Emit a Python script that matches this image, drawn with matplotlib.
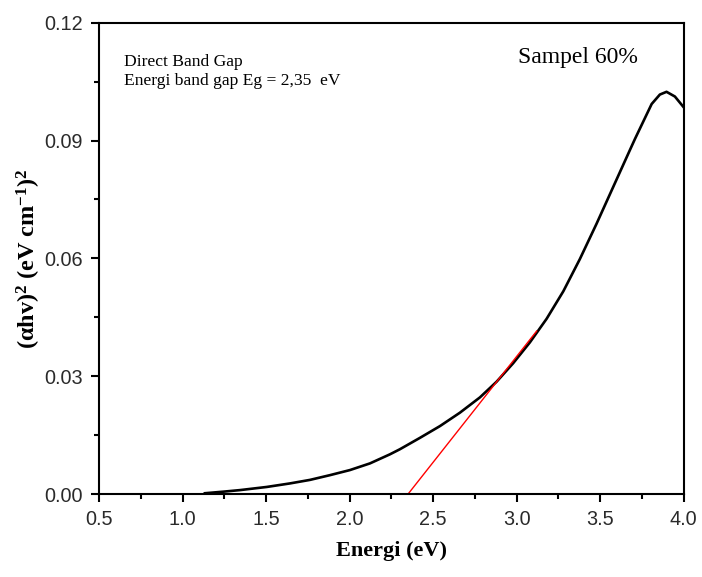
import matplotlib
matplotlib.use("Agg")
import matplotlib.pyplot as plt
from matplotlib.ticker import MultipleLocator, FormatStrFormatter

# Tauc plot data: photon energy (eV) vs (alpha*h*nu)^2
energy = [1.134, 1.244, 1.344, 1.504, 1.643, 1.763, 1.882, 2.002, 2.122,
          2.241, 2.301, 2.421, 2.541, 2.660, 2.780, 2.880, 2.979, 3.079,
          3.179, 3.279, 3.378, 3.478, 3.578, 3.678, 3.708, 3.808, 3.857,
          3.897, 3.947, 3.997]
tauc = [0.0002, 0.0006, 0.0010, 0.0018, 0.0027, 0.0036, 0.0048, 0.0061,
        0.0078, 0.0101, 0.0114, 0.0143, 0.0173, 0.0207, 0.0246, 0.0286,
        0.0333, 0.0386, 0.0446, 0.0516, 0.0598, 0.0688, 0.0782, 0.0876,
        0.0904, 0.0993, 0.1017, 0.1024, 0.1012, 0.0986]

# Linear extrapolation of the absorption edge
fit_x = [2.35, 3.12]
fit_y = [0.0, 0.0415]

x_ticks = [0.5, 1.0, 1.5, 2.0, 2.5, 3.0, 3.5, 4.0]
y_ticks = [0.00, 0.03, 0.06, 0.09, 0.12]

plt.rcParams['mathtext.fontset'] = 'custom'
plt.rcParams['mathtext.rm'] = 'Liberation Serif'
plt.rcParams['mathtext.bf'] = 'Liberation Serif:bold'
plt.rcParams['mathtext.it'] = 'Liberation Serif:italic'

fig = plt.figure(figsize=(7.02, 5.77), dpi=100)
ax = fig.add_axes([0.141, 0.1438, 0.833, 0.8169])

ax.plot(energy, tauc, color='black', lw=1.9, solid_joinstyle='round')
ax.plot(fit_x, fit_y, color='red', lw=1.0)

ax.set_xlim(0.5, 4.0)
ax.set_ylim(0.0, 0.12)
ax.set_xticks(x_ticks)
ax.set_yticks(y_ticks)
ax.xaxis.set_minor_locator(MultipleLocator(0.25))
ax.yaxis.set_minor_locator(MultipleLocator(0.015))
ax.xaxis.set_major_formatter(FormatStrFormatter('%.1f'))
ax.yaxis.set_major_formatter(FormatStrFormatter('%.2f'))

for side in ax.spines.values():
    side.set_linewidth(1.5)

ax.tick_params(which='major', direction='out', length=6, width=1.5,
               labelsize=14.3, pad=5.5, labelcolor='#2a2a2a')
ax.tick_params(which='minor', direction='out', length=3.5, width=1.5)
for lab in ax.get_xticklabels() + ax.get_yticklabels():
    lab.set_fontfamily('Liberation Sans')

ax.set_xlabel('Energi (eV)', fontfamily='Liberation Serif', fontweight='bold',
              fontsize=16, labelpad=9)
ax.set_ylabel(r'$\mathbf{(\alpha hv)^{2}\ (eV\ cm^{-1})^{2}}$', fontsize=17.5,
              labelpad=1)

ax.text(0.043, 0.909, 'Direct Band Gap', transform=ax.transAxes,
        fontfamily='Liberation Serif', fontsize=12.6, va='baseline')
ax.text(0.043, 0.868, 'Energi band gap Eg = 2,35  eV', transform=ax.transAxes,
        fontfamily='Liberation Serif', fontsize=12.6, va='baseline')
ax.text(0.716, 0.9145, 'Sampel 60%', transform=ax.transAxes,
        fontfamily='Liberation Serif', fontsize=17, va='baseline')

fig.savefig('out.png', dpi=100)
